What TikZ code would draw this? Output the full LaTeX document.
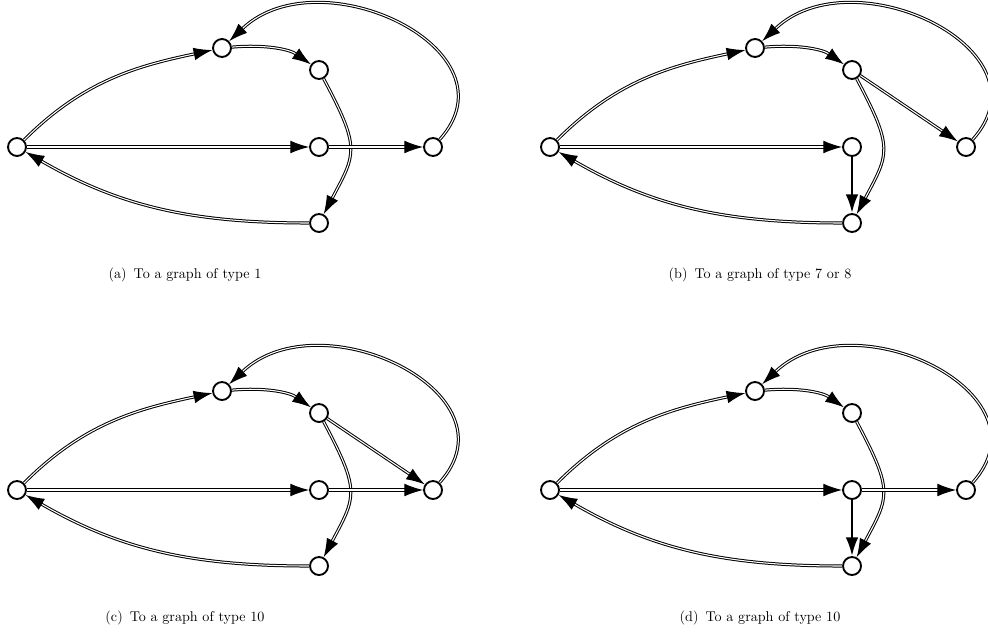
\documentclass[tikz,border=0pt]{standalone}
\usetikzlibrary{arrows.meta}
\begin{document}
\begin{tikzpicture}[x=0.75pt,y=0.75pt,
  vtx/.style={circle,draw,line width=1.4pt,minimum size=13.5pt,inner sep=0pt,fill=white},
  dbl/.style={line width=0.75pt,double=white,double distance=0.8pt,-{Latex[length=14pt,width=9.5pt]}},
  sgl/.style={line width=2pt,-{Latex[length=14pt,width=9.5pt]}},
  captxt/.style={font=\fontsize{10.6}{12.5}\selectfont}]
\useasboundingbox (0,0) rectangle (988,-635);
\clip (0,0) rectangle (988,-635);
\def\basegraph{%
  \node[vtx] (L) at (17,-147) {};
  \node[vtx] (T) at (222,-48) {};
  \node[vtx] (R) at (319,-70) {};
  \node[vtx] (M) at (319,-147) {};
  \node[vtx] (F) at (433,-147) {};
  \node[vtx] (B) at (319,-223) {};
  \draw[dbl] (L) to[out=45,in=192] (T);
  \draw[dbl] (T) to[out=5,in=145] (R);
  \draw[dbl] (L) -- (M);
  \draw[dbl] (F) .. controls +(87,97) and +(98,93) .. (T);
  \draw[dbl] (B) to[out=180,in=-30] (L);
}
% (a)
\begin{scope}[name prefix=a-]
  \basegraph
  \draw[dbl] (R) to[out=-62,in=62,looseness=1.4] (B);
  \draw[dbl] (M) -- (F);
  \node[captxt] (capa) at (185,-275) {(a)\enspace To a graph of type 1};
\end{scope}
% (b)
\begin{scope}[shift={(533,0)},name prefix=b-]
  \basegraph
  \draw[dbl] (R) to[out=-62,in=62,looseness=1.4] (B);
  \draw[dbl] (R) -- (F);
  \draw[sgl] (M) -- (B);
  \node[captxt] (capb) at (227,-275) {(b)\enspace To a graph of type 7 or 8};
\end{scope}
% (c)
\begin{scope}[shift={(0,-343)},name prefix=c-]
  \basegraph
  \draw[dbl] (R) to[out=-62,in=62,looseness=1.4] (B);
  \draw[dbl] (R) -- (F);
  \draw[dbl] (M) -- (F);
  \node[captxt] (capc) at (185,-275) {(c)\enspace To a graph of type 10};
\end{scope}
% (d)
\begin{scope}[shift={(533,-343)},name prefix=d-]
  \basegraph
  \draw[dbl] (R) to[out=-62,in=62,looseness=1.4] (B);
  \draw[dbl] (M) -- (F);
  \draw[sgl] (M) -- (B);
  \node[captxt] (capd) at (227,-275) {(d)\enspace To a graph of type 10};
\end{scope}
\end{tikzpicture}
\end{document}
